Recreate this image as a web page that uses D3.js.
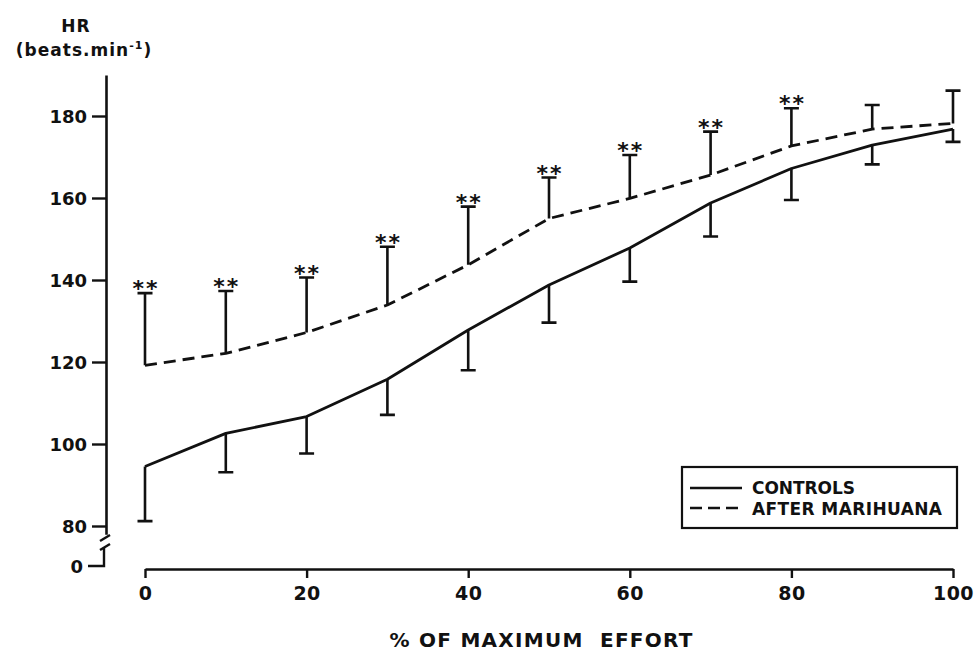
<!DOCTYPE html>
<html>
<head>
<meta charset="utf-8">
<script src="https://cdn.jsdelivr.net/npm/d3@7"></script>
<style>
  html, body { margin: 0; padding: 0; background: #fff; }
  svg text { font-family: "DejaVu Sans", "Liberation Sans", sans-serif; font-weight: bold; fill: #111; white-space: pre; }
</style>
</head>
<body>
<svg id="chart" width="976" height="653"></svg>
<script>
// Heart rate during exercise, controls vs. after marihuana (mean and one-sided SD)
const effort = [0, 10, 20, 30, 40, 50, 60, 70, 80, 90, 100];
const controlsMean  = [94.5, 102.6, 106.7, 115.8, 127.8, 138.8, 147.8, 158.8, 167.2, 172.9, 176.8];
const controlsLow   = [81.2, 93.1, 97.7, 107.1, 118.0, 129.6, 139.6, 150.6, 159.5, 168.2, 173.7];
const marihuanaMean = [119.2, 122.1, 127.2, 133.9, 143.7, 155.0, 159.9, 165.6, 172.7, 176.8, 178.2];
const marihuanaHigh = [136.8, 137.3, 140.6, 148.1, 157.9, 165.0, 170.5, 176.2, 181.9, 182.7, 186.2];
const significant   = [true, true, true, true, true, true, true, true, true, false, false];
const xTicks = [0, 20, 40, 60, 80, 100];
const yTicks = [80, 100, 120, 140, 160, 180];
const legendLabels = ["CONTROLS", "AFTER MARIHUANA"];

const svg = d3.select("#chart");
const ink = "#111";

const x = d3.scaleLinear().domain([0, 100]).range([145, 953]);
const y = d3.scaleLinear().domain([78, 190]).range([534.2, 75]);
const xAxisY = 569;
const yAxisX = 106;

// ---- x axis
const xAxis = svg.append("g")
  .attr("transform", `translate(0,${xAxisY})`)
  .call(d3.axisBottom(x).tickValues(xTicks).tickSize(9).tickSizeOuter(0).tickPadding(7));
xAxis.select(".domain").attr("stroke", ink).attr("stroke-width", 2.6);
xAxis.selectAll(".tick line").attr("stroke", ink).attr("stroke-width", 2.4);
xAxis.selectAll(".tick text").attr("font-size", 19).attr("letter-spacing", 0.5)
  .attr("fill", ink).attr("dy", "0.8em");

// ---- y axis (broken between 0 and 80)
const yAxis = svg.append("g")
  .attr("transform", `translate(${yAxisX},0)`)
  .call(d3.axisLeft(y).tickValues(yTicks).tickSize(14).tickSizeOuter(0).tickPadding(5));
yAxis.select(".domain").attr("stroke", ink).attr("stroke-width", 2.6);
yAxis.selectAll(".tick line").attr("stroke", ink).attr("stroke-width", 2.4);
yAxis.selectAll(".tick text").attr("font-size", 18).attr("fill", ink).attr("dy", "0.36em");

const brk = svg.append("g").attr("stroke", ink).attr("stroke-width", 2.4).attr("fill", "none");
brk.append("path").attr("d", `M${yAxisX - 6},${541} L${yAxisX + 4},${535}`);
brk.append("path").attr("d", `M${yAxisX - 6},${550} L${yAxisX + 4},${544}`);
brk.append("path").attr("d", `M${yAxisX - 2},${548} L${yAxisX - 2},${566} L${yAxisX - 18},${566}`);
svg.append("text").attr("x", yAxisX - 23).attr("y", 567).attr("dy", "0.36em")
  .attr("text-anchor", "end").attr("font-size", 18).text("0");

// ---- axis titles
svg.append("text").attr("x", 76).attr("y", 32).attr("text-anchor", "middle")
  .attr("font-size", 17).attr("letter-spacing", 1).text("HR");
const unit = svg.append("text").attr("x", 84).attr("y", 56).attr("text-anchor", "middle")
  .attr("font-size", 17).attr("letter-spacing", 1);
unit.append("tspan").text("(beats.min");
unit.append("tspan").attr("font-size", 11).attr("dy", -7).text("-1");
unit.append("tspan").attr("dy", 7).text(")");

svg.append("text").attr("x", 541).attr("y", 647).attr("text-anchor", "middle")
  .attr("font-size", 20).attr("textLength", 303).attr("lengthAdjust", "spacing")
  .text("% OF MAXIMUM  EFFORT");

// ---- lines
const line = (vals) => d3.line()
  .x((d, i) => x(effort[i]))
  .y(d => y(d))
  .curve(d3.curveLinear)(vals);

svg.append("path").attr("d", line(controlsMean))
  .attr("fill", "none").attr("stroke", ink).attr("stroke-width", 2.8)
  .attr("stroke-linejoin", "round");
svg.append("path").attr("d", line(marihuanaMean))
  .attr("fill", "none").attr("stroke", ink).attr("stroke-width", 2.8)
  .attr("stroke-linejoin", "round").attr("stroke-dasharray", "12,7");

// ---- error bars
const cap = 7.5;
const bars = svg.append("g").attr("stroke", ink).attr("stroke-width", 2.6).attr("fill", "none");
effort.forEach((e, i) => {
  const cx = x(e);
  // controls: mean down to mean - SD
  bars.append("path").attr("d",
    `M${cx},${y(controlsMean[i])} L${cx},${y(controlsLow[i])} M${cx - cap},${y(controlsLow[i])} L${cx + cap},${y(controlsLow[i])}`);
  // after marihuana: mean up to mean + SD
  bars.append("path").attr("d",
    `M${cx},${y(marihuanaMean[i])} L${cx},${y(marihuanaHigh[i])} M${cx - cap},${y(marihuanaHigh[i])} L${cx + cap},${y(marihuanaHigh[i])}`);
});

// ---- significance markers
svg.append("g").selectAll("text")
  .data(effort.filter((e, i) => significant[i]))
  .join("text")
  .attr("x", d => x(d) + 1)
  .attr("y", d => y(marihuanaHigh[effort.indexOf(d)]) + 3)
  .attr("text-anchor", "middle")
  .attr("font-size", 22)
  .attr("font-weight", "normal")
  .attr("letter-spacing", 2)
  .attr("fill", "#333")
  .text("**");

// ---- legend
const lg = svg.append("g");
lg.append("rect").attr("x", 682).attr("y", 467).attr("width", 275).attr("height", 61)
  .attr("fill", "#fff").attr("stroke", ink).attr("stroke-width", 2.2);
lg.append("line").attr("x1", 690).attr("x2", 742).attr("y1", 488).attr("y2", 488)
  .attr("stroke", ink).attr("stroke-width", 2.6);
lg.append("line").attr("x1", 690).attr("x2", 742).attr("y1", 508).attr("y2", 508)
  .attr("stroke", ink).attr("stroke-width", 2.6).attr("stroke-dasharray", "12,6");
lg.append("text").attr("x", 752).attr("y", 494).attr("font-size", 17)
  .attr("textLength", 103).attr("lengthAdjust", "spacing").text(legendLabels[0]);
lg.append("text").attr("x", 752).attr("y", 515).attr("font-size", 17)
  .attr("textLength", 190).attr("lengthAdjust", "spacing").text(legendLabels[1]);
</script>
</body>
</html>
